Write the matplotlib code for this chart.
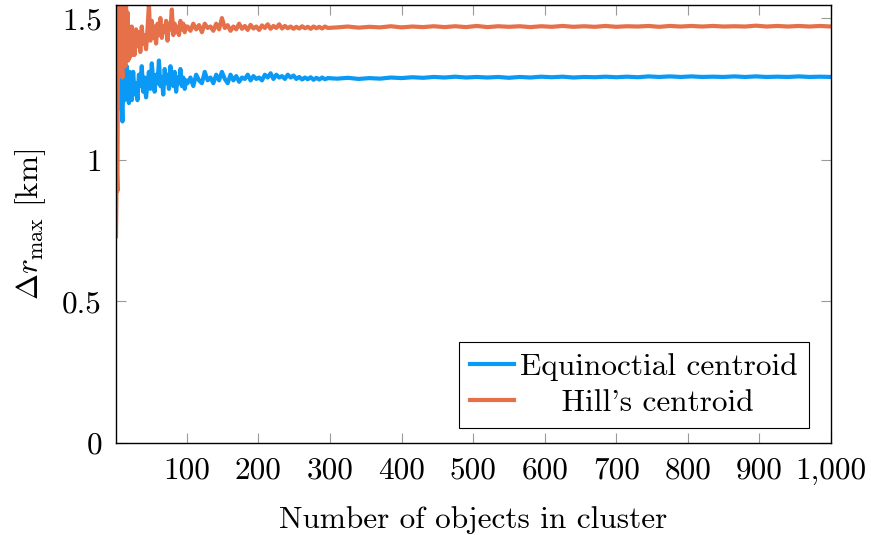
import matplotlib
matplotlib.use("Agg")
import matplotlib.pyplot as plt

plt.rcParams['font.family'] = ['cmr10', 'DejaVu Serif']
plt.rcParams['mathtext.fontset'] = 'cm'
plt.rcParams['axes.formatter.use_mathtext'] = True

# number of objects (sample points)
n_early = list(range(1, 25))
n_mid = list(range(25, 100, 2))
n_late = list(range(101, 298, 4))
n_tail = list(range(310, 1001, 15))
n_objects = n_early + n_mid + n_late + n_tail

equi_early = [0.98, 1.31, 1.24, 1.30, 1.18, 1.29, 1.22, 1.31, 1.20, 1.135, 1.26, 1.32,
              1.21, 1.30, 1.24, 1.33, 1.22, 1.28, 1.20, 1.31, 1.25, 1.29, 1.21, 1.27]
equi_mid = [1.31, 1.23, 1.27, 1.21, 1.30, 1.26, 1.33, 1.24, 1.29, 1.22, 1.27, 1.31, 1.25,
            1.34, 1.28, 1.24, 1.30, 1.27, 1.35, 1.26, 1.29, 1.23, 1.32, 1.27, 1.30, 1.25,
            1.33, 1.28, 1.26, 1.31, 1.24, 1.29, 1.27, 1.32, 1.26, 1.29, 1.25, 1.28]
equi_late = [1.27, 1.29, 1.26, 1.30, 1.28, 1.27, 1.31, 1.28, 1.29, 1.27, 1.30, 1.28, 1.31,
             1.285, 1.27, 1.30, 1.28, 1.295, 1.275, 1.29, 1.285, 1.30, 1.28, 1.295, 1.285,
             1.29, 1.28, 1.30, 1.29, 1.305, 1.285, 1.30, 1.29, 1.295, 1.285, 1.30, 1.29,
             1.297, 1.285, 1.292, 1.283, 1.29, 1.284, 1.291, 1.282, 1.289, 1.283, 1.29,
             1.284, 1.288]
equi_tail = [1.286, 1.289, 1.285, 1.288, 1.286, 1.290, 1.288, 1.291, 1.289, 1.292, 1.290,
             1.293, 1.290, 1.292, 1.290, 1.292, 1.289, 1.292, 1.290, 1.293, 1.291, 1.293,
             1.290, 1.292, 1.291, 1.293, 1.291, 1.293, 1.291, 1.294, 1.292, 1.294, 1.292,
             1.294, 1.292, 1.293, 1.292, 1.294, 1.292, 1.294, 1.292, 1.293, 1.292, 1.294,
             1.292, 1.293, 1.292]

hill_early = [0.73, 0.98, 0.89, 1.58, 1.30, 1.58, 1.31, 1.57, 1.34, 1.29, 1.56, 1.36,
              1.58, 1.33, 1.55, 1.38, 1.52, 1.35, 1.47, 1.36, 1.44, 1.38, 1.47, 1.37]
hill_mid = [1.44, 1.37, 1.46, 1.40, 1.45, 1.38, 1.47, 1.41, 1.44, 1.39, 1.46, 1.55, 1.42,
            1.49, 1.43, 1.47, 1.41, 1.48, 1.44, 1.50, 1.43, 1.47, 1.45, 1.49, 1.42, 1.48,
            1.46, 1.53, 1.44, 1.48, 1.45, 1.47, 1.44, 1.49, 1.46, 1.48, 1.45, 1.47]
hill_late = [1.47, 1.455, 1.48, 1.46, 1.475, 1.45, 1.48, 1.465, 1.47, 1.455, 1.48, 1.46,
             1.50, 1.465, 1.475, 1.455, 1.47, 1.46, 1.48, 1.462, 1.472, 1.458, 1.476,
             1.463, 1.47, 1.458, 1.474, 1.465, 1.478, 1.462, 1.472, 1.465, 1.478, 1.463,
             1.472, 1.464, 1.47, 1.462, 1.469, 1.463, 1.471, 1.464, 1.469, 1.462, 1.47,
             1.464, 1.469, 1.463, 1.47, 1.465]
hill_tail = [1.467, 1.470, 1.466, 1.469, 1.467, 1.471, 1.467, 1.470, 1.468, 1.471, 1.468,
             1.471, 1.468, 1.472, 1.468, 1.471, 1.469, 1.471, 1.468, 1.471, 1.469, 1.472,
             1.469, 1.471, 1.469, 1.472, 1.469, 1.471, 1.470, 1.472, 1.469, 1.472, 1.470,
             1.472, 1.470, 1.472, 1.470, 1.471, 1.470, 1.473, 1.470, 1.472, 1.470, 1.472,
             1.470, 1.472, 1.470]

equinoctial = equi_early + equi_mid + equi_late + equi_tail
hill = hill_early + hill_mid + hill_late + hill_tail

x_ticks = [100, 200, 300, 400, 500, 600, 700, 800, 900, 1000]
x_labels = ['100', '200', '300', '400', '500', '600', '700', '800', '900', '1,000']
y_ticks = [0, 0.5, 1, 1.5]
y_labels = ['0', '0.5', '1', '1.5']

fs = 22.5
fig = plt.figure(figsize=(8.71, 5.35), dpi=100)
ax = fig.add_axes([116 / 871, 1 - 443 / 535, 715 / 871, 438 / 535])

ax.plot(n_objects, equinoctial, color='#0a9af5', lw=3.0, label='Equinoctial centroid')
ax.plot(n_objects, hill, color='#e5704a', lw=3.0, label='    Hill\'s centroid')

ax.set_xlim(1, 1000)
ax.set_ylim(0, 1.546)
ax.set_xticks(x_ticks)
ax.set_xticklabels(x_labels)
ax.set_yticks(y_ticks)
ax.set_yticklabels(y_labels)
ax.tick_params(direction='in', length=7.5, width=0.8, color='#999999',
               top=True, right=True, labelsize=fs, pad=10)
for s in ax.spines.values():
    s.set_linewidth(1.0)

ax.set_xlabel('Number of objects in cluster', fontsize=fs, labelpad=15)
ax.set_ylabel(r'$\Delta r_{\max}$ [km]', fontsize=fs, labelpad=10)

leg = ax.legend(loc='lower right', fontsize=fs, frameon=True, fancybox=False,
                edgecolor='black', framealpha=1, handlelength=1.4, handletextpad=0.22,
                borderpad=0.35, labelspacing=0.25, borderaxespad=0,
                bbox_to_anchor=(693 / 715, 15 / 438))
leg.get_frame().set_linewidth(0.8)

fig.savefig('out.png', dpi=100)
